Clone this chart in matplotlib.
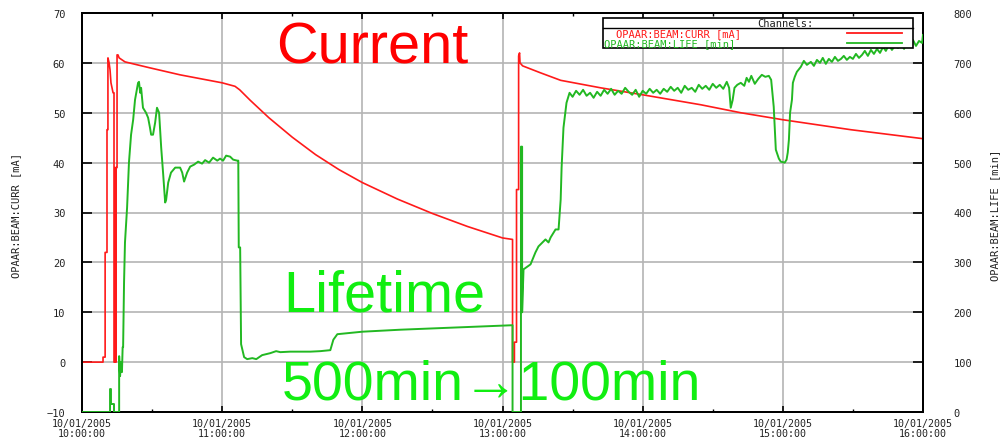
import matplotlib
matplotlib.use("Agg")
import matplotlib.pyplot as plt
import matplotlib.dates as mdates
from matplotlib.patches import Rectangle
from matplotlib.lines import Line2D
from datetime import datetime, timedelta

# ---------------- data ----------------
start_time = datetime(2005, 10, 1, 10, 0, 0)

# Beam current (mA): minutes after 10:00
curr_minutes = [0, 9.0, 9.0, 9.9, 9.9, 10.7, 10.7, 11.1, 11.1, 11.6, 12.0, 12.4, 13.3,
                13.7, 13.7, 14.1, 14.1, 14.4, 14.4, 14.6, 14.6, 15.0, 15.0, 15.4, 15.9,
                18.4, 29.1, 42.0, 60.0, 65.5, 67.5, 72.0, 80.0, 90.0, 100.0, 110.0,
                120.0, 135.0, 150.0, 165.0, 180.0, 184.3, 184.3, 185.1, 185.1,
                186.0, 186.0, 186.9, 186.9, 187.3, 187.5, 188.6, 196.3, 204.9, 222.0,
                240.0, 264.9, 282.0, 300.0, 329.1, 360.0]
curr_values = [0, 0, 1, 1, 22, 22, 46.6, 46.6, 61, 60, 58.6, 56, 54,
               54, 0, 0, 39, 39, 0, 0, 39, 39, 61.6, 61.6, 61,
               60.2, 59.0, 57.6, 56.0, 55.3, 54.6, 52.5, 49.0, 45.1, 41.6, 38.6,
               36.0, 32.7, 29.8, 27.2, 24.9, 24.6, 0, 0, 4,
               4, 34.6, 34.6, 61.4, 62, 60, 59.4, 58, 56.5, 55.0,
               53.6, 51.6, 50.0, 48.6, 46.6, 44.8]

# Beam lifetime (min): minutes after 10:00
life_minutes = [0, 12.0, 12.0, 12.4, 12.4, 13.7, 13.7, 15.9, 15.9, 16.3, 16.7, 17.1, 17.4,
                17.6, 18.0, 18.4, 19.3, 20.1, 21.0, 21.9, 22.7, 23.6, 24.0, 24.4, 24.9,
                25.3, 26.1, 27.4, 28.3, 29.1, 29.6, 30.4, 31.3, 32.1, 33.0, 33.9, 34.7,
                35.6, 36.0, 36.9, 38.1, 39.9, 42.0, 42.9, 43.7, 45.0, 46.3, 48.0, 49.7,
                51.4, 52.7, 54.4, 56.1, 57.9, 59.1, 60.4, 61.7, 63.4, 64.7, 66.4, 66.9,
                67.1, 67.7, 68.1, 69.4, 70.7, 72.9, 74.6, 77.1, 80.6, 83.1, 84.9, 89.1,
                97.7, 102.0, 106.3, 107.6, 109.3, 120.0, 136.3, 157.7, 179.1, 184.3,
                184.3, 187.9, 187.9, 188.4, 188.4, 189.0, 192.0, 194.1, 195.4, 198.4,
                199.7, 200.6, 202.7, 204.0, 204.9, 205.3, 206.1, 207.4, 208.7,
                210, 211.5, 213, 214.5, 216, 217.5, 219, 220.5, 222, 223.5, 225, 226.5,
                228, 229.5, 231, 232.5, 234, 235.5, 237, 238.5, 240, 241.5, 243, 244.5,
                246, 247.5, 249, 250.5, 252, 253.5, 255, 256.5, 258, 259.5, 261, 262.5,
                264, 265.5, 267, 268.5, 270, 271.5, 273, 274.5, 276, 277, 277.7, 278.5,
                279.3, 280.5, 282, 283.5, 284.5, 285.5, 286.5, 288, 289.5, 291, 292.5,
                294, 295, 296.1, 297, 298.3, 299.1, 300.8, 301.6, 302.1, 302.6, 303.1,
                303.9, 304.3, 305.1, 306, 307.7, 309, 310.3, 312, 313.3, 314.6, 315.9,
                317.1, 318.4, 319.7, 321, 322.3, 323.6, 324.9, 326.1, 327.4, 328.7, 330,
                331.3, 332.6, 333.9, 335.1, 336.4, 337.7, 339, 340.3, 341.6, 342.9,
                344.1, 345.4, 346.7, 348, 349.3, 350.6, 351.9, 353.1, 354.4, 355.7, 357,
                358.3, 359.6, 360]
life_values = [0, 0, 46, 46, 16, 16, 0, 0, 112, 72, 100, 80, 130,
               130, 260, 340, 410, 500, 556, 586, 626, 650, 660, 662, 640,
               650, 610, 600, 590, 570, 556, 556, 580, 610, 600, 530, 480,
               420, 425, 460, 480, 490, 490, 480, 462, 480, 492, 496, 502,
               498, 505, 500, 510, 504, 508, 504, 514, 512, 506, 504, 504,
               330, 330, 136, 110, 106, 108, 106, 114, 118, 122, 120, 121,
               121, 122, 124, 145, 156, 161, 165, 169, 173, 174,
               0, 0, 532, 532, 200, 286, 296, 320, 332, 346,
               340, 350, 366, 366, 426, 490, 570, 620, 640,
               632, 644, 636, 646, 634, 640, 630, 642, 634, 646, 638, 648,
               636, 644, 638, 650, 642, 636, 646, 632, 644, 638, 648, 640,
               646, 638, 648, 642, 652, 644, 650, 640, 654, 646, 650, 642,
               656, 648, 654, 646, 658, 650, 656, 648, 662, 650, 610, 625,
               650, 656, 660, 654, 670, 662, 674, 658, 668, 676, 672,
               674, 666, 612, 526, 508, 502, 500, 506, 520, 546, 600,
               626, 660, 672, 682, 692, 704, 696, 702, 694, 706, 700,
               710, 698, 708, 702, 712, 704, 708, 714, 706, 712, 708,
               718, 710, 716, 724, 714, 726, 718, 728, 720, 732,
               724, 736, 726, 734, 730, 740, 728, 742, 736, 746, 734,
               744, 740, 756]

left_ticks = [-10, 0, 10, 20, 30, 40, 50, 60, 70]
right_ticks = [0, 100, 200, 300, 400, 500, 600, 700, 800]
left_label = "OPAAR:BEAM:CURR [mA]"
right_label = "OPAAR:BEAM:LIFE [min]"
legend_title = "Channels:"
legend_names = ["OPAAR:BEAM:CURR [mA]", "OPAAR:BEAM:LIFE [min]"]
annot_current = "Current"
annot_lifetime = "Lifetime"
annot_change = "500min\u2192100min"

# ---------------- figure ----------------
W, H = 1002, 439
fig = plt.figure(figsize=(W / 100, H / 100), dpi=100)
L, R, T, B = 82, 923, 14, 413
ax = fig.add_axes([L / W, 1 - B / H, (R - L) / W, (B - T) / H])
ax2 = ax.twinx()

red = "#ff1a1a"
green = "#22b822"
mono = "DejaVu Sans Mono"

ct = [start_time + timedelta(minutes=m) for m in curr_minutes]
lt = [start_time + timedelta(minutes=m) for m in life_minutes]
ax.plot(ct, curr_values, color=red, lw=1.2, zorder=3)
ax2.plot(lt, life_values, color=green, lw=1.4, zorder=3)

ax.set_xlim(start_time, start_time + timedelta(hours=6))
ax.set_ylim(-10, 70)
ax2.set_ylim(0, 800)
ax.set_yticks(left_ticks)
ax2.set_yticks(right_ticks)

ax.xaxis.set_major_locator(mdates.HourLocator())
ax.xaxis.set_minor_locator(mdates.MinuteLocator(byminute=[30]))
ax.xaxis.set_major_formatter(mdates.DateFormatter("%m/%d/%Y\n%H:%M:%S"))

ax.grid(True, which="major", color="#b4b4b4", lw=1.2)
ax.set_axisbelow(True)

for a in (ax, ax2):
    for s in a.spines.values():
        s.set_color("black")
        s.set_linewidth(1.4)

ax.tick_params(axis="x", which="major", direction="in", length=4, width=1.2,
               top=True, labelsize=7.2, pad=4)
ax.tick_params(axis="x", which="minor", direction="in", length=2, width=1, top=True)
ax.tick_params(axis="y", which="major", direction="in", length=7, width=1.2,
               labelsize=7.5, pad=12)
ax2.tick_params(axis="y", which="major", direction="in", length=7, width=1.2,
                labelsize=7.5, pad=22)
for lab in ax.get_xticklabels() + ax.get_yticklabels() + ax2.get_yticklabels():
    lab.set_family(mono)
    lab.set_color("#222222")
for lab in ax.get_xticklabels():
    lab.set_linespacing(1.0)

fig.text(16 / W, 1 - 215 / H, left_label, rotation=90, family=mono, fontsize=7.5,
         ha="center", va="center", color="#222222")
fig.text(995 / W, 1 - 215 / H, right_label, rotation=90, family=mono, fontsize=7.5,
         ha="center", va="center", color="#222222")

# ---------------- legend box ----------------
bx0, bx1, by0, by1, bmid = 603, 913, 19, 49, 29
fig.patches.append(Rectangle((bx0 / W, 1 - by1 / H), (bx1 - bx0) / W, (by1 - by0) / H,
                             transform=fig.transFigure, facecolor="white",
                             edgecolor="black", lw=1.2, zorder=10))
fig.lines.append(Line2D([bx0 / W, bx1 / W], [1 - bmid / H, 1 - bmid / H],
                        transform=fig.transFigure, color="black", lw=1.0, zorder=11))
fig.text(785 / W, 1 - 24.3 / H, legend_title, family=mono, fontsize=7.5,
         ha="center", va="center", color="#222222", zorder=12)
row_y = [34.3, 44]
row_x = [616, 604]
for name, col, y, x in zip(legend_names, [red, green], row_y, row_x):
    fig.text(x / W, 1 - y / H, name, family=mono, fontsize=7.5, ha="left",
             va="center", color=col, zorder=12)
    fig.lines.append(Line2D([847 / W, 902 / W], [1 - y / H, 1 - y / H],
                            transform=fig.transFigure, color=col, lw=1.3, zorder=12))

# ---------------- annotations ----------------
sans = ["Liberation Sans", "DejaVu Sans"]
fig.text(276 / W, 1 - 64 / H, annot_current, family=sans, fontsize=41.5,
         color="#ff0000", ha="left", va="baseline", zorder=20)
fig.text(283 / W, 1 - 312 / H, annot_lifetime, family=sans, fontsize=41.5,
         color="#11ee11", ha="left", va="baseline", zorder=20)
fig.text(282 / W, 1 - 400 / H, annot_change, family=sans, fontsize=40,
         color="#11ee11", ha="left", va="baseline", zorder=20)

fig.savefig("out.png", dpi=100)
